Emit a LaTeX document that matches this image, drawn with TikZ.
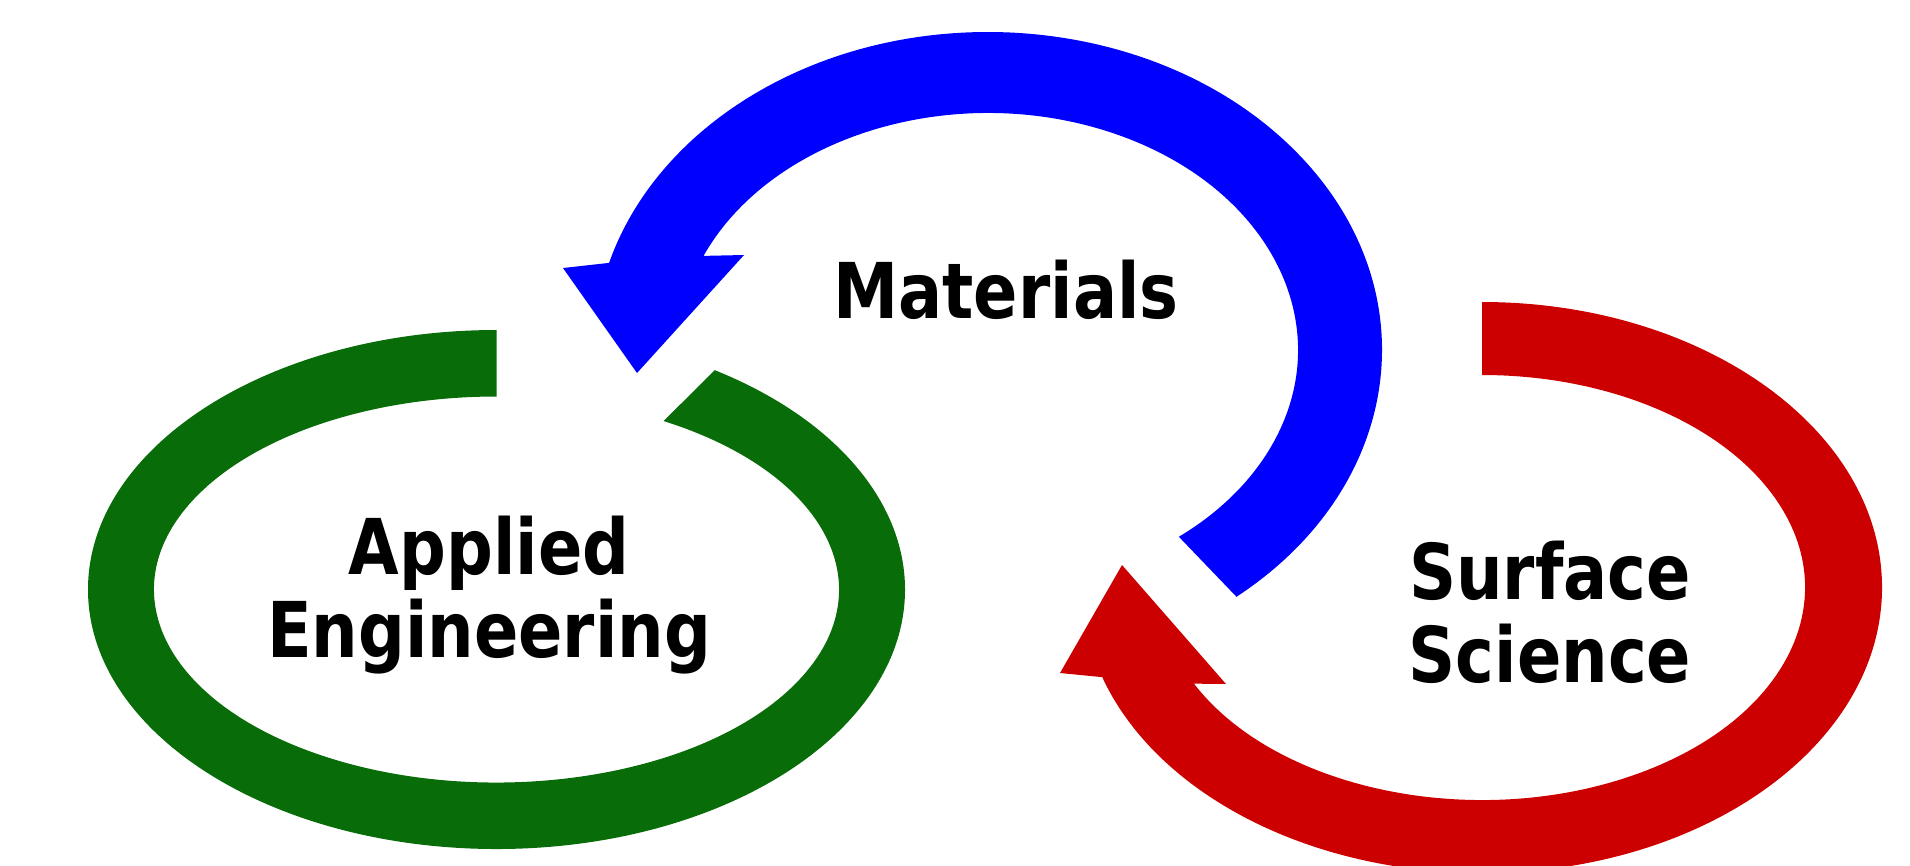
\documentclass[tikz,border=0pt]{standalone}
\usepackage{fontspec}
\setmainfont{DejaVu Sans}[FakeStretch=0.85]
\usetikzlibrary{calc}
\definecolor{ringgreen}{RGB}{8,108,8}
\definecolor{arrowblue}{RGB}{0,0,255}
\definecolor{arrowred}{RGB}{204,0,0}

\begin{document}
\begin{tikzpicture}[
    x = 1mm, y = 1mm,
    lbl/.style = {align=center, anchor=base, inner sep=0pt,
    font=\bfseries\fontsize{21.9}{23.6}\selectfont}
    ]
    \useasboundingbox (0,0) rectangle (191,86.5);
    %
    \coordinate (GC) at (49.65,27.55);
    \coordinate (BC) at (98.8,51.5);
    \coordinate (RC) at (148.2,27.75);
    % green ring, open at the top
    \fill[ringgreen] ($(GC)+(90:40.85mm and 25.95mm)$)
        arc[start angle=90, end angle=417.7, x radius=40.85mm, y radius=25.95mm]
        -- ($(GC)+(420.8:34.25mm and 19.3mm)$)
        arc[start angle=420.8, end angle=90, x radius=34.25mm, y radius=19.3mm]
        -- cycle;
    % blue arrow
    \fill[arrowblue] ($(BC)+(-50.9:39.4mm and 31.8mm)$)
        arc[start angle=-50.9, end angle=164.1, x radius=39.4mm, y radius=31.8mm]
        -- (56.3,59.7) -- (63.7,49.2) -- (74.4,61.0)
        -- ($(BC)+(156.6:31mm and 23.7mm)$)
        arc[start angle=156.6, end angle=-52, x radius=31mm, y radius=23.7mm]
        -- cycle;
    % red arrow
    \fill[arrowred] ($(RC)+(90:40mm and 28.55mm)$)
        arc[start angle=90, end angle=-161.7, x radius=40mm, y radius=28.55mm]
        -- (106.0,19.2) -- (112.2,30.0) -- (122.6,18.1)
        -- ($(RC)+(-153.1:32.3mm and 21.25mm)$)
        arc[start angle=-153.1, end angle=90, x radius=32.3mm, y radius=21.25mm]
        -- cycle;
    % labels (base = last line)
    \node[lbl] (Materials) at (100.6,54.7) {Materials};
    \node[lbl] (Applied) at (48.9,20.8) {Applied\\Engineering};
    \node[lbl] (Surface) at (155.0,18.3) {Surface\\Science};
\end{tikzpicture}
\end{document}
